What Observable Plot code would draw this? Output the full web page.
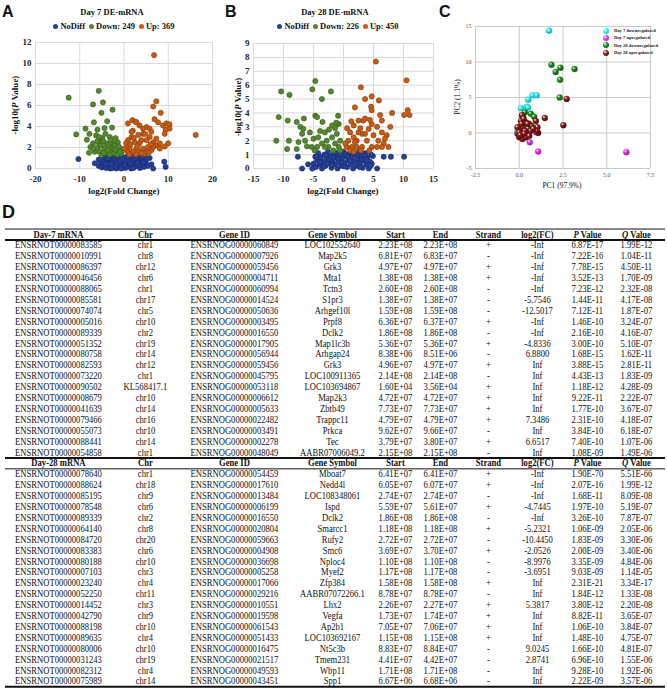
<!DOCTYPE html>
<html><head><meta charset="utf-8">
<script src="https://cdn.jsdelivr.net/npm/d3@7"></script>
<script src="https://cdn.jsdelivr.net/npm/@observablehq/plot@0.6"></script>
<style>
body{margin:0;background:#fff;}
#fig{position:relative;width:667px;height:689px;overflow:hidden;font-family:"Liberation Serif","Times New Roman",serif;color:#111;}
.plab{position:absolute;font-family:"Liberation Sans",Arial,sans-serif;font-weight:bold;font-size:16px;line-height:16px;}
.ttl{position:absolute;font-weight:bold;font-size:8.5px;line-height:10px;text-align:center;white-space:nowrap;}
.leg{position:absolute;font-weight:bold;font-size:8.5px;line-height:10px;text-align:center;white-space:nowrap;}
.leg i.m{display:inline-block;width:5px;height:5px;border-radius:50%;margin:0 2px 0 4px;vertical-align:0px;}
.axl{position:absolute;font-weight:bold;font-size:9px;line-height:12px;height:12px;text-align:center;white-space:nowrap;}
.rot{transform:rotate(-90deg);}
.cleg{position:absolute;font-weight:bold;font-size:4.6px;line-height:6px;white-space:nowrap;color:#222;}
.cleg i{position:absolute;left:-11px;top:-0.5px;width:6px;height:6px;border-radius:50%;}
svg{position:absolute;}
</style></head><body><div id="fig"></div>
<script>
// ---------------- DATA ----------------
// Panel A: Day 7 volcano  [log2FC, -log10 P]
const aNoDiff = [[-10.3,0.9],[-6.6,0.5],[-5.7,0.85],[-5.7,0.25],[9.1,0.65],[9.4,0.15],[6.6,0.0],[6.2,0.4],[5.8,1.0],
[-5.2,0.6],[-5.0,0.1],[-4.8,1.0],[-4.5,0.35],[-4.3,0.8],[-4.0,0.05],[-3.9,1.15],[-3.7,0.55],[-3.5,0.25],[-3.3,0.9],[-3.1,0.0],[-3.0,0.6],[-2.8,1.2],[-2.7,0.3],[-2.5,0.8],[-2.3,0.1],[-2.2,1.05],[-2.0,0.45],[-1.8,0.75],[-1.7,0.0],[-1.5,1.2],[-1.4,0.3],[-1.2,0.6],[-1.0,0.95],[-0.9,0.1],[-0.7,0.45],[-0.5,1.15],[-0.4,0.75],[-0.2,0.2],[0.0,0.55],[0.2,1.0],[0.3,0.05],[0.5,0.4],[0.7,0.8],[0.9,1.2],[1.0,0.2],[1.2,0.6],[1.4,0.95],[1.6,0.0],[1.8,0.35],[2.0,0.75],[2.2,1.1],[2.4,0.15],[2.6,0.5],[2.8,0.9],[3.0,0.3],[3.2,1.2],[3.4,0.65],[3.6,0.05],[3.8,1.0],[4.0,0.4],[4.2,0.8],[4.5,0.15],[4.7,1.1],[4.9,0.55],[5.2,0.9],[5.4,0.25],[-4.6,0.6],[-3.6,0.95],[-2.6,0.05],[-1.6,0.5],[-0.6,0.0],[0.4,0.7],[1.5,0.45],[2.5,0.95],[3.5,0.35],[4.4,0.6],[-2.9,0.45],[-1.9,0.2],[-0.8,0.7],[0.1,0.3],[1.1,0.9],[2.1,0.05],[3.1,0.55],[4.1,1.15],[-4.1,0.45],[-5.3,0.9],[0.6,1.1],[-0.3,0.9],[1.9,1.15]];
const aDown = [[-12.5,6.75],[-5.7,7.4],[-4.75,6.3],[-7.0,6.1],[-2.6,5.6],[-5.1,5.3],[-6.8,4.4],[-3.8,4.5],[-2.7,3.9],[-4.4,3.85],[-6.0,3.7],[-8.7,3.8],[-10.8,3.25],[-7.8,3.3],[-8.4,2.75],[-6.3,3.15],[-4.9,2.9],[-3.2,3.0],[-1.9,2.9],[-7.0,2.4],[-5.5,2.5],[-4.0,2.4],[-2.5,2.4],[-1.4,2.5],[-7.6,2.05],[-5.9,2.05],[-4.4,1.9],[-2.9,1.95],[-1.7,2.05],[-0.8,1.9],[-7.9,1.5],[-6.6,1.6],[-5.5,1.6],[-4.0,1.5],[-2.5,1.6],[-1.1,1.6],[-5.1,1.3],[-3.2,1.35],[-0.6,1.4],[-4.7,2.6],[-3.5,2.15],[-2.1,2.2],[-1.2,2.1],[-3.6,1.75],[-2.2,1.45],[-1.5,1.35],[-4.6,1.5],[-6.0,2.6],[-5.2,2.2],[-3.0,2.7],[-2.0,1.8],[-0.9,1.6],[-6.9,1.9],[-4.2,3.3],[-5.6,3.0]];
const aUp = [[6.8,10.8],[7.3,6.4],[6.6,5.9],[8.3,5.3],[6.9,4.7],[7.7,4.4],[8.8,4.1],[9.6,4.3],[10.3,4.2],[10.3,3.8],[9.4,3.7],[9.2,3.3],[10.0,2.4],[9.2,2.1],[16.2,3.2],[1.9,4.6],[2.6,4.45],[0.9,4.3],[2.8,4.4],[3.5,4.1],[2.0,3.6],[4.3,3.8],[5.1,3.95],[5.8,3.8],[6.2,3.5],[4.3,3.3],[3.2,3.2],[1.7,3.0],[0.9,2.7],[2.4,2.5],[3.5,2.4],[5.1,2.7],[6.6,2.5],[7.3,2.2],[8.1,1.9],[5.4,2.05],[4.3,1.9],[2.8,1.9],[1.3,2.05],[0.5,1.75],[2.0,1.6],[3.5,1.6],[5.1,1.6],[6.2,1.75],[6.6,2.05],[8.1,2.4],[7.3,2.85],[5.8,3.0],[1.7,3.5],[0.5,2.4],[0.15,1.9],[0.9,1.6],[1.2,1.35],[2.7,1.35],[4.6,1.4],[3.9,2.7],[2.2,2.9],[4.8,3.3],[1.4,2.3],[3.0,2.1],[6.0,2.3],[4.0,1.45],[5.6,1.5]];

// Panel B: Day 28 volcano
const bNoDiff = [[-7.6,0.85],[-5.9,0.3],[-6.9,0.0],[-5.2,0.0],[-5.0,0.35],[6.7,0.85],[7.9,0.85],[10.1,0.85],[5.6,0.0],[4.7,0.35],[-4.7,0.85],[4.9,0.9],
[-4.6,0.1],[-4.4,0.6],[-4.2,1.1],[-4.0,0.3],[-3.8,0.8],[-3.6,0.0],[-3.4,0.5],[-3.2,1.0],[-3.0,0.2],[-2.8,0.7],[-2.6,1.2],[-2.4,0.4],[-2.2,0.9],[-2.0,0.05],[-1.8,0.6],[-1.6,1.1],[-1.4,0.3],[-1.2,0.8],[-1.0,0.0],[-0.8,0.5],[-0.6,1.0],[-0.4,0.2],[-0.2,0.75],[0.0,1.2],[0.2,0.4],[0.4,0.9],[0.6,0.1],[0.8,0.6],[1.0,1.05],[1.2,0.3],[1.4,0.8],[1.6,0.0],[1.8,0.5],[2.0,1.0],[2.2,0.2],[2.4,0.7],[2.6,1.2],[2.8,0.4],[3.0,0.9],[3.2,0.05],[3.4,0.6],[3.6,1.1],[3.8,0.3],[4.0,0.8],[4.2,0.0],[4.4,0.5],[4.6,1.0],[-3.9,0.45],[-2.9,0.95],[-1.9,0.25],[-0.9,0.7],[0.1,0.15],[1.1,0.55],[2.1,0.35],[3.1,0.65],[4.1,0.25],[-4.5,0.85],[-3.3,0.15],[-2.3,0.6],[-1.3,1.15],[-0.3,0.45],[0.7,0.85],[1.7,1.15],[2.7,0.1],[3.7,0.75],[4.5,0.2],[-1.7,0.8],[0.3,1.05],[2.3,0.95],[-2.7,0.35],[3.5,0.95]];
const bDown = [[-10.4,5.55],[-9.0,5.3],[-10.8,3.7],[-11.2,2.0],[-9.3,3.45],[-9.1,2.0],[-9.4,1.4],[-7.8,1.4],[-6.6,3.6],[-4.7,6.3],[-5.2,5.7],[-2.1,5.55],[-3.6,5.0],[-4.7,3.8],[-4.4,3.7],[-3.5,3.35],[-1.9,3.1],[-1.4,2.9],[-0.9,3.8],[-1.1,2.5],[-7.8,3.35],[-7.2,3.0],[-6.9,2.5],[-6.4,2.0],[-5.6,2.6],[-5.0,2.15],[-6.1,1.6],[-5.3,1.55],[-4.2,2.25],[-3.1,2.6],[-2.8,2.0],[-1.9,2.25],[-3.6,1.8],[-2.5,1.55],[-1.4,1.8],[-0.8,1.55],[-0.55,2.0],[-3.1,1.55],[-4.4,1.55],[-1.7,1.3],[-0.55,1.3],[-0.8,3.2],[-6.7,2.85],[-7.5,1.9],[-2.4,2.8],[-3.9,2.7],[-1.2,3.3],[-4.8,1.3]];
const bUp = [[5.4,7.7],[10.5,6.35],[2.9,5.85],[4.7,5.2],[3.6,5.0],[5.9,4.9],[4.6,4.45],[4.7,4.2],[1.9,4.4],[6.1,3.85],[8.1,4.0],[10.1,3.85],[11.0,3.85],[10.7,4.2],[7.8,3.0],[6.4,3.45],[7.2,2.4],[7.5,1.55],[6.7,1.8],[5.8,2.0],[5.0,2.4],[4.2,2.85],[3.3,3.45],[2.5,3.45],[1.7,3.1],[1.1,2.6],[0.8,2.0],[0.55,1.55],[1.4,1.55],[2.2,2.0],[3.1,2.5],[3.9,2.0],[4.7,1.55],[5.6,1.55],[6.4,1.55],[3.1,1.55],[2.2,1.55],[3.6,3.6],[4.7,3.2],[5.6,3.0],[6.4,2.6],[6.9,2.15],[2.5,2.6],[1.7,2.25],[3.6,2.5],[1.9,1.9],[1.1,1.3],[0.3,1.8],[1.7,1.2],[2.9,1.3],[4.3,1.3],[0.6,2.9],[1.3,3.4],[2.8,2.9],[4.4,3.5]];

// Panel C: PCA  [PC1, PC2]
const pcaD7Down = [[1.7,14.4],[0.76,5.3],[1.0,5.3],[0.51,4.7],[0.44,3.7],[0.5,3.6],[0.1,3.5],[0.2,2.2],[0.0,0.6],[-0.1,0.3]];
const pcaD7Up = [[6.12,-2.7],[1.08,-2.6],[0.6,-1.3],[0.38,0.0],[0.95,0.1]];
const pcaD28Down = [[1.84,9.6],[2.35,9.2],[3.16,9.0],[2.08,8.6],[2.33,7.5],[2.31,5.0],[0.32,2.9],[0.66,2.7],[0.85,2.3],[0.2,2.3],[0.57,1.3],[0.5,0.6]];
const pcaD28Up = [[2.71,4.8],[1.46,2.1],[2.52,1.1],[0.95,1.7],[0.15,2.5],[1.04,0.8],[1.08,0.0],[1.0,0.3],[0.7,1.0],[0.38,1.5],[0.1,1.7],[-0.1,-0.1],[0.0,-0.6],[0.19,-0.85],[0.38,-0.6],[0.47,0.1],[0.19,0.8],[0.32,0.3],[0.0,0.1],[0.1,-0.4],[0.57,-0.4],[0.66,0.3],[0.28,-0.1],[0.13,1.3],[0.47,1.3],[-0.1,0.8],[0.25,2.0],[0.8,0.6],[0.05,-0.3]];
const pcaLabels = ["Day 7 downregulated","Day 7 upregulated","Day 28 downregulated","Day 28 upregulated"];

// Panel D: table
const header7 = ["Day-7 mRNA","Chr","Gene ID","Gene Symbol","Start","End","Strand","log2(FC)","P Value","Q Value"];
const header28 = ["Day-28 mRNA","Chr","Gene ID","Gene Symbol","Start","End","Strand","log2(FC)","P Value","Q Value"];
const day7Rows = [
["ENSRNOT00000083585","chr1","ENSRNOG00000060849","LOC102552640","2.23E+08","2.23E+08","+","-Inf","6.87E-17","1.99E-12"],
["ENSRNOT00000010991","chr8","ENSRNOG00000007926","Map2k5","6.81E+07","6.83E+07","-","-Inf","7.22E-16","1.04E-11"],
["ENSRNOT00000086397","chr12","ENSRNOG00000059456","Grk3","4.97E+07","4.97E+07","+","-Inf","7.78E-15","4.50E-11"],
["ENSRNOT00000046456","chr6","ENSRNOG00000004711","Mta1","1.38E+08","1.38E+08","+","-Inf","3.52E-13","1.70E-09"],
["ENSRNOT00000088065","chr1","ENSRNOG00000060994","Tctn3","2.60E+08","2.60E+08","-","-Inf","7.23E-12","2.32E-08"],
["ENSRNOT00000085581","chr17","ENSRNOG00000014524","S1pr3","1.38E+07","1.38E+07","-","-5.7546","1.44E-11","4.17E-08"],
["ENSRNOT00000074074","chr5","ENSRNOG00000050636","Arhgef10l","1.59E+08","1.59E+08","-","-12.5017","7.12E-11","1.87E-07"],
["ENSRNOT00000005016","chr10","ENSRNOG00000003495","Prpf8","6.36E+07","6.37E+07","+","-Inf","1.46E-10","3.24E-07"],
["ENSRNOT00000089339","chr2","ENSRNOG00000016550","Dclk2","1.86E+08","1.86E+08","-","-Inf","2.16E-10","4.16E-07"],
["ENSRNOT00000051352","chr19","ENSRNOG00000017905","Map1lc3b","5.36E+07","5.36E+07","+","-4.8336","3.00E-10","5.10E-07"],
["ENSRNOT00000080758","chr14","ENSRNOG00000056944","Arhgap24","8.38E+06","8.51E+06","-","6.8800","1.68E-15","1.62E-11"],
["ENSRNOT00000082593","chr12","ENSRNOG00000059456","Grk3","4.96E+07","4.97E+07","+","Inf","3.88E-15","2.81E-11"],
["ENSRNOT00000073220","chr1","ENSRNOG00000045795","LOC100911365","2.14E+08","2.14E+08","-","Inf","4.43E-13","1.83E-09"],
["ENSRNOT00000090502","KL568417.1","ENSRNOG00000053118","LOC103694867","1.60E+04","3.56E+04","+","Inf","1.18E-12","4.28E-09"],
["ENSRNOT00000008679","chr10","ENSRNOG00000006612","Map2k3","4.72E+07","4.72E+07","+","Inf","9.22E-11","2.22E-07"],
["ENSRNOT00000041639","chr14","ENSRNOG00000005633","Zbtb49","7.73E+07","7.73E+07","+","Inf","1.77E-10","3.67E-07"],
["ENSRNOT00000079466","chr16","ENSRNOG00000022482","Trappc11","4.79E+07","4.79E+07","+","7.3486","2.31E-10","4.18E-07"],
["ENSRNOT00000055073","chr10","ENSRNOG00000003491","Prkca","9.62E+07","9.66E+07","-","Inf","3.84E-10","6.18E-07"],
["ENSRNOT00000088441","chr14","ENSRNOG00000002278","Tec","3.79E+07","3.80E+07","+","6.6517","7.40E-10","1.07E-06"],
["ENSRNOT00000054858","chr1","ENSRNOG00000048049","AABR07006049.2","2.15E+08","2.15E+08","-","Inf","1.08E-09","1.49E-06"]];
const day28Rows = [
["ENSRNOT00000078640","chr1","ENSRNOG00000054459","Mboat7","6.41E+07","6.41E+07","+","-Inf","1.90E-70","5.51E-66"],
["ENSRNOT00000088624","chr18","ENSRNOG00000017610","Nedd4l","6.05E+07","6.07E+07","+","-Inf","2.07E-16","1.99E-12"],
["ENSRNOT00000085195","chr9","ENSRNOG00000013484","LOC108348061","2.74E+07","2.74E+07","-","-Inf","1.68E-11","8.09E-08"],
["ENSRNOT00000078548","chr6","ENSRNOG00000006199","Ispd","5.59E+07","5.61E+07","+","-4.7445","1.97E-10","5.19E-07"],
["ENSRNOT00000089339","chr2","ENSRNOG00000016550","Dclk2","1.86E+08","1.86E+08","-","-Inf","3.26E-10","7.87E-07"],
["ENSRNOT00000064140","chr8","ENSRNOG00000020804","Smarcc1","1.18E+08","1.18E+08","+","-5.2321","1.06E-09","2.05E-06"],
["ENSRNOT00000084720","chr20","ENSRNOG00000059663","Rufy2","2.72E+07","2.72E+07","-","-10.4450","1.83E-09","3.30E-06"],
["ENSRNOT00000083383","chr6","ENSRNOG00000004908","Smc6","3.69E+07","3.70E+07","+","-2.0526","2.00E-09","3.40E-06"],
["ENSRNOT00000080188","chr10","ENSRNOG00000036698","Nploc4","1.10E+08","1.10E+08","-","-8.9976","3.35E-09","4.84E-06"],
["ENSRNOT00000007103","chr3","ENSRNOG00000005258","Myef2","1.17E+08","1.17E+08","-","-3.6951","9.03E-09","1.14E-05"],
["ENSRNOT00000023240","chr4","ENSRNOG00000017066","Zfp384","1.58E+08","1.58E+08","+","Inf","2.31E-21","3.34E-17"],
["ENSRNOT00000052250","chr11","ENSRNOG00000029216","AABR07072266.1","8.78E+07","8.78E+07","-","Inf","1.84E-12","1.33E-08"],
["ENSRNOT00000014452","chr3","ENSRNOG00000010551","Lhx2","2.26E+07","2.27E+07","+","5.3817","3.80E-12","2.20E-08"],
["ENSRNOT00000042790","chr9","ENSRNOG00000019598","Vegfa","1.73E+07","1.74E+07","+","Inf","8.82E-11","3.65E-07"],
["ENSRNOT00000088198","chr10","ENSRNOG00000061543","Ap2b1","7.05E+07","7.06E+07","+","Inf","1.06E-10","3.84E-07"],
["ENSRNOT00000089635","chr4","ENSRNOG00000051433","LOC103692167","1.15E+08","1.15E+08","+","Inf","1.48E-10","4.75E-07"],
["ENSRNOT00000080006","chr10","ENSRNOG00000016475","Nt5c3b","8.83E+07","8.84E+07","-","9.0245","1.66E-10","4.81E-07"],
["ENSRNOT00000031243","chr19","ENSRNOG00000021517","Tmem231","4.41E+07","4.42E+07","-","2.8741","6.96E-10","1.55E-06"],
["ENSRNOT00000082312","chr4","ENSRNOG00000049593","Wbp11","1.71E+08","1.71E+08","-","Inf","9.28E-10","1.92E-06"],
["ENSRNOT00000075989","chr14","ENSRNOG00000043451","Spp1","6.67E+06","6.68E+06","-","Inf","2.22E-09","3.57E-06"]];

// ---------------- LAYOUT / STYLE ----------------
const fig = document.getElementById("fig");
const SERIF = '"Liberation Serif","Times New Roman",serif';
const C = {nodiff:"#24409a", nodiffS:"#15285f", down:"#548a2e", downS:"#34581b", up:"#c85c14", upS:"#83390a"};
function div(cls, html, css){const d=document.createElement("div");d.className=cls;d.innerHTML=html;d.style.cssText+=css;fig.appendChild(d);return d;}
function put(svg,left,top){svg.style.left=left+"px";svg.style.top=top+"px";fig.appendChild(svg);}
const pts = a => a.map(([x,y])=>({x,y}));

function volcano(o){
  return Plot.plot({
    width:o.w, height:154, marginLeft:o.ml, marginRight:o.mr, marginTop:o.mt, marginBottom:o.mb,
    style:{fontFamily:SERIF,fontSize:"9px",fontWeight:"bold",color:"#262626",background:"none",overflow:"visible"},
    x:{domain:o.xd, ticks:o.xt, tickSize:0, tickPadding:7, tickFormat:d=>String(d), label:null},
    y:{domain:o.yd, ticks:o.yt, tickSize:0, tickPadding:4, tickFormat:d=>String(d), label:null},
    marks:[
      Plot.ruleX(o.xt,{stroke:"#d9d9d9"}),
      Plot.ruleY(o.yt,{stroke:"#d9d9d9"}),
      Plot.dot(pts(o.n),{x:"x",y:"y",r:2.6,fill:C.nodiff,stroke:C.nodiffS,strokeWidth:0.6}),
      Plot.dot(pts(o.d),{x:"x",y:"y",r:2.6,fill:C.down,stroke:C.downS,strokeWidth:0.6}),
      Plot.dot(pts(o.u),{x:"x",y:"y",r:2.6,fill:C.up,stroke:C.upS,strokeWidth:0.6})
    ]
  });
}
function legend(cx,top,nd,nu){
  div("leg",`<i class="m" style="background:${C.nodiff}"></i>NoDiff<i class="m" style="background:${C.down}"></i>Down: ${nd}<i class="m" style="background:${C.up}"></i>Up: ${nu}`,`left:${cx-80}px;width:160px;top:${top}px;`);
}

// Panel A
div("plab","A","left:2px;top:4px;");
div("ttl","Day 7 DE-mRNA","left:12px;width:200px;top:7px;");
legend(112,21,249,369);
put(volcano({w:222,ml:35,mr:10,mt:8,mb:20,xd:[-20,20],xt:[-20,-10,0,10,20],yd:[0,12],yt:[0,2,4,6,8,10,12],n:aNoDiff,d:aDown,u:aUp}),0,34);
div("axl","log2(Fold Change)","left:64px;width:120px;top:185px;");
div("axl rot","-log10(<i>P</i> Value)","left:-45px;width:120px;top:99px;");

// Panel B
div("plab","B","left:225px;top:4px;");
div("ttl","Day 28 DE-mRNA","left:235px;width:200px;top:7px;");
legend(336,21,226,450);
put(volcano({w:222,ml:31,mr:11,mt:9,mb:20,xd:[-15,15],xt:[-15,-10,-5,0,5,10,15],yd:[0,9],yt:[0,1,2,3,4,5,6,7,8,9],n:bNoDiff,d:bDown,u:bUp}),222,34);
div("axl","log2(Fold Change)","left:283px;width:120px;top:185px;");
div("axl rot","-log10(<i>P</i> Value)","left:178px;width:120px;top:101px;");

// Panel C
div("plab","C","left:439px;top:4px;");
const pcaCols=[["#38f4f4","#0fa7a7"],["#f53af5","#a010a0"],["#1f9a1f","#0b4f0b"],["#962020","#4a0808"]];
const pcaSets=[pcaD7Down,pcaD7Up,pcaD28Down,pcaD28Up];
const pcaSvg = Plot.plot({
  width:210,height:166,marginLeft:25,marginRight:10,marginTop:10,marginBottom:14,
  style:{fontFamily:SERIF,fontSize:"6px",color:"#595959",background:"none",overflow:"visible"},
  x:{domain:[-2.5,7.5],ticks:[-2.5,0,2.5,5,7.5],tickFormat:d=>d.toFixed(1),tickSize:0,tickPadding:4,label:null},
  y:{domain:[-5,15],ticks:[-5,0,5,10,15],tickFormat:d=>String(d),tickSize:0,tickPadding:4,label:null},
  marks:[
    Plot.ruleX([-2.5,0,2.5,5,7.5],{stroke:"#c9c9c9"}),
    Plot.ruleY([-5,0,5,10,15],{stroke:"#c9c9c9"}),
    ...pcaSets.map((s,i)=>Plot.dot(pts(s),{x:"x",y:"y",r:3,fill:`url(#pg${i})`,stroke:pcaCols[i][1],strokeWidth:0.3}))
  ]
});
const defs=d3.select(pcaSvg).insert("defs",":first-child");
pcaCols.forEach(([c,dk],i)=>{const g=defs.append("radialGradient").attr("id","pg"+i).attr("cx","35%").attr("cy","32%").attr("r","70%");
  g.append("stop").attr("offset","0%").attr("stop-color","#fff");
  g.append("stop").attr("offset","35%").attr("stop-color",c);
  g.append("stop").attr("offset","100%").attr("stop-color",dk);});
put(pcaSvg,450,16);
div("axl","PC1 (97.9%)","left:502px;width:120px;top:180px;font-weight:normal;font-size:7.5px;");
div("axl rot","PC2 (1.1%)","left:398px;width:120px;top:91px;font-weight:normal;font-size:7.5px;");
pcaLabels.forEach((t,i)=>{div("cleg",`<i style="background:radial-gradient(circle at 35% 32%,#fff 0%,${pcaCols[i][0]} 35%,${pcaCols[i][1]} 100%)"></i>${t}`,`left:614px;top:${28+i*7.4}px;`);});

// Panel D: table
div("plab","D","left:2px;top:203px;font-size:18px;line-height:18px;");
const colPos=[58,145,234,332,395,440,488,537,587,636];
const hdr=[], body=[];
header7.forEach((t,c)=>hdr.push({r:0,c,t}));
day7Rows.forEach((row,i)=>row.forEach((t,c)=>body.push({r:i+1,c,t})));
header28.forEach((t,c)=>hdr.push({r:21,c,t}));
day28Rows.forEach((row,i)=>row.forEach((t,c)=>body.push({r:i+22,c,t})));
const nRows = 1 + day7Rows.length + 1 + day28Rows.length;
const FS = 9.4, SX = 0.915;   // table lettering is slightly condensed in the figure
const tableSvg = Plot.plot({
  width:667,height:463,marginLeft:0,marginRight:0,marginTop:8,marginBottom:8.1,
  style:{fontFamily:SERIF,fontSize:FS+"px",color:"#111",background:"none",overflow:"visible"},
  x:{domain:[0,667],axis:null},
  y:{domain:[0,nRows-1],reverse:true,axis:null},
  marks:[
    Plot.ruleY([-0.5,21.5],{x1:5,x2:665,stroke:"#111",strokeWidth:1}),
    Plot.ruleY([0.5,20.5,nRows-0.5],{x1:5,x2:665,stroke:"#111",strokeWidth:2}),
    Plot.text(body,{x:d=>colPos[d.c]/SX,y:"r",text:"t",fontSize:FS,fill:"#111"}),
    Plot.text(hdr,{x:d=>colPos[d.c]/SX,y:"r",text:"t",fontSize:FS,fontWeight:"bold",fill:"#111"})
  ]
});
const texts=[...tableSvg.querySelectorAll("text")];
texts.forEach(t=>{
  const s=t.textContent;
  if(s==="P Value"||s==="Q Value") t.innerHTML=`<tspan font-style="italic">${s[0]}</tspan> Value`;
});
new Set(texts.map(t=>t.parentNode)).forEach(g=>{
  const tr=g.getAttribute("transform")||"";
  g.setAttribute("transform",`scale(${SX},1) ${tr}`);
});
put(tableSvg,0,226);
</script></body></html>
